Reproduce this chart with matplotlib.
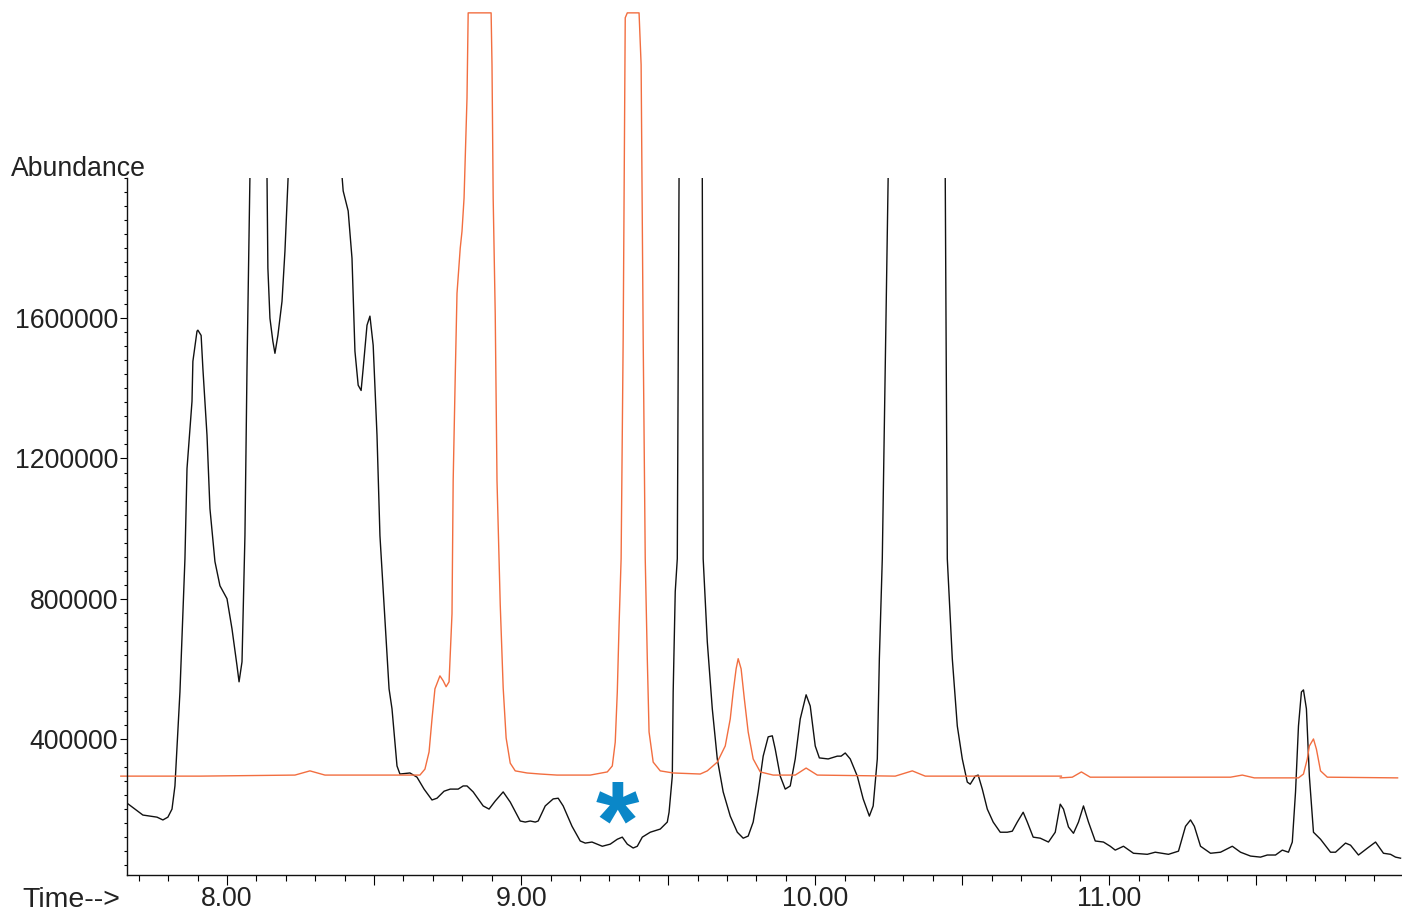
import matplotlib
matplotlib.use("Agg")
import matplotlib.pyplot as plt
from matplotlib.ticker import FixedLocator, MultipleLocator, FuncFormatter

# total ion chromatogram (black), clipped peaks carry estimated apex values
tic_time = [7.660, 7.714, 7.762, 7.782, 7.799, 7.813, 7.823, 7.840, 7.857, 7.864,
            7.881, 7.884, 7.898, 7.901, 7.912, 7.918, 7.932, 7.942, 7.959, 7.976,
            8.000, 8.017, 8.034, 8.041, 8.051, 8.061, 8.068, 8.078, 8.105, 8.136,
            8.139, 8.146, 8.156, 8.163, 8.173, 8.187, 8.197, 8.208, 8.310, 8.391,
            8.395, 8.412, 8.425, 8.435, 8.446, 8.456, 8.463, 8.476, 8.486, 8.497,
            8.510, 8.520, 8.537, 8.551, 8.561, 8.578, 8.588, 8.622, 8.646, 8.670,
            8.697, 8.714, 8.738, 8.759, 8.786, 8.803, 8.816, 8.837, 8.871, 8.891,
            8.912, 8.939, 8.963, 8.997, 9.014, 9.031, 9.048, 9.058, 9.082, 9.109,
            9.126, 9.143, 9.173, 9.201, 9.218, 9.241, 9.276, 9.303, 9.327, 9.344,
            9.361, 9.381, 9.395, 9.412, 9.439, 9.473, 9.497, 9.503, 9.514, 9.517,
            9.524, 9.531, 9.537, 9.575, 9.616, 9.619, 9.633, 9.650, 9.667, 9.687,
            9.711, 9.735, 9.755, 9.772, 9.789, 9.806, 9.823, 9.840, 9.854, 9.864,
            9.881, 9.898, 9.915, 9.932, 9.949, 9.969, 9.983, 10.000, 10.014, 10.044,
            10.075, 10.088, 10.102, 10.119, 10.143, 10.163, 10.184, 10.197, 10.211, 10.218,
            10.228, 10.248, 10.350, 10.442, 10.449, 10.466, 10.483, 10.500, 10.517, 10.527,
            10.544, 10.554, 10.568, 10.585, 10.605, 10.629, 10.653, 10.670, 10.687, 10.707,
            10.721, 10.741, 10.765, 10.793, 10.816, 10.833, 10.844, 10.861, 10.878, 10.895,
            10.912, 10.929, 10.952, 10.980, 11.003, 11.020, 11.048, 11.082, 11.129, 11.156,
            11.201, 11.235, 11.259, 11.276, 11.289, 11.310, 11.344, 11.378, 11.418, 11.446,
            11.480, 11.514, 11.537, 11.565, 11.588, 11.609, 11.622, 11.633, 11.643, 11.653,
            11.660, 11.670, 11.680, 11.694, 11.718, 11.752, 11.769, 11.803, 11.820, 11.847,
            11.878, 11.905, 11.932, 11.956, 11.973, 11.990]
tic_abund = [217000, 183000, 177000, 169000, 177000, 200000, 266000, 534000, 914000, 1171000,
             1363000, 1477000, 1563000, 1566000, 1551000, 1457000, 1266000, 1057000, 906000, 837000,
             800000, 714000, 609000, 563000, 620000, 980000, 1457000, 2006000, 2600000, 2006000,
             1743000, 1600000, 1534000, 1500000, 1551000, 1648000, 1791000, 2006000, 3200000, 2006000,
             1963000, 1906000, 1771000, 1506000, 1409000, 1394000, 1457000, 1580000, 1606000, 1523000,
             1266000, 980000, 743000, 543000, 486000, 323000, 300000, 303000, 291000, 257000,
             226000, 231000, 251000, 257000, 257000, 266000, 266000, 249000, 209000, 200000,
             223000, 249000, 220000, 166000, 163000, 166000, 163000, 166000, 209000, 229000,
             231000, 209000, 151000, 109000, 103000, 106000, 94000, 100000, 114000, 120000,
             100000, 89000, 94000, 120000, 134000, 143000, 163000, 191000, 294000, 534000,
             820000, 914000, 2006000, 4000000, 2006000, 914000, 677000, 486000, 343000, 249000,
             180000, 134000, 117000, 123000, 163000, 249000, 351000, 406000, 409000, 371000,
             294000, 257000, 266000, 343000, 457000, 526000, 494000, 380000, 346000, 343000,
             351000, 351000, 360000, 343000, 294000, 229000, 180000, 209000, 343000, 629000,
             914000, 2006000, 5000000, 2006000, 914000, 629000, 437000, 343000, 277000, 271000,
             294000, 297000, 257000, 200000, 163000, 134000, 134000, 137000, 163000, 191000,
             163000, 120000, 117000, 106000, 134000, 214000, 200000, 149000, 131000, 163000,
             209000, 163000, 109000, 106000, 94000, 83000, 94000, 74000, 71000, 77000,
             71000, 80000, 151000, 169000, 151000, 94000, 74000, 77000, 94000, 77000,
             66000, 63000, 69000, 69000, 83000, 77000, 106000, 249000, 437000, 534000,
             540000, 486000, 294000, 134000, 114000, 77000, 77000, 103000, 97000, 69000,
             89000, 106000, 74000, 71000, 63000, 60000]

# extracted ion trace (orange), drawn as two scan segments
ion_time_a = [7.639, 7.908, 8.231, 8.282, 8.333, 8.656, 8.673, 8.687, 8.697, 8.707,
              8.724, 8.735, 8.745, 8.755, 8.765, 8.769, 8.776, 8.782, 8.793, 8.799,
              8.806, 8.816, 8.820, 8.898, 8.901, 8.905, 8.912, 8.918, 8.929, 8.939,
              8.949, 8.963, 8.980, 9.020, 9.065, 9.122, 9.235, 9.293, 9.310, 9.320,
              9.327, 9.333, 9.340, 9.347, 9.354, 9.361, 9.401, 9.408, 9.415, 9.422,
              9.429, 9.435, 9.449, 9.473, 9.517, 9.609, 9.633, 9.667, 9.694, 9.711,
              9.721, 9.731, 9.738, 9.748, 9.759, 9.772, 9.789, 9.813, 9.857, 9.932,
              9.969, 10.007, 10.272, 10.330, 10.374, 10.837]
ion_abund_a = [294000, 294000, 297000, 309000, 297000, 297000, 314000, 363000, 457000, 543000,
               580000, 566000, 549000, 563000, 757000, 1137000, 1434000, 1671000, 1800000, 1848000,
               1943000, 2228000, 2471000, 2471000, 2323000, 1943000, 1611000, 1137000, 783000, 546000,
               403000, 331000, 309000, 303000, 300000, 297000, 297000, 306000, 323000, 391000,
               534000, 723000, 914000, 1543000, 2457000, 2471000, 2471000, 2323000, 1543000, 914000,
               629000, 420000, 334000, 309000, 303000, 300000, 309000, 334000, 380000, 457000,
               534000, 600000, 629000, 600000, 514000, 420000, 343000, 306000, 297000, 297000,
               317000, 297000, 294000, 309000, 294000, 294000]
ion_time_b = [10.833, 10.874, 10.905, 10.935, 11.412, 11.452, 11.493, 11.643, 11.660, 11.673,
              11.680, 11.694, 11.704, 11.718, 11.741, 11.980]
ion_abund_b = [289000, 291000, 306000, 291000, 291000, 297000, 289000, 289000, 300000, 343000,
               380000, 400000, 371000, 309000, 291000, 289000]

y_labels = [400000, 800000, 1200000, 1600000]

plt.rcParams['font.family'] = ['Liberation Sans', 'DejaVu Sans']
txt = '#222222'

fig = plt.figure(figsize=(14.02, 9.13), dpi=100)
ax = fig.add_axes([127 / 1402, 38 / 913, 1275 / 1402, 697 / 913])

ax.plot(tic_time, tic_abund, color='#111111', lw=1.0, solid_joinstyle='round')
ax.plot(ion_time_a, ion_abund_a, color='#f26e40', lw=1.0, clip_on=False, solid_joinstyle='round')
ax.plot(ion_time_b, ion_abund_b, color='#f26e40', lw=1.0, clip_on=False, solid_joinstyle='round')

ax.set_xlim(7.66, 11.995)
ax.set_ylim(12000, 2000000)

for s in ['top', 'right']:
    ax.spines[s].set_visible(False)
for s in ['left', 'bottom']:
    ax.spines[s].set_linewidth(1.0)
    ax.spines[s].set_color('#111111')

ax.yaxis.set_major_locator(FixedLocator(y_labels))
ax.yaxis.set_minor_locator(MultipleLocator(40000))
ax.yaxis.set_major_formatter(FuncFormatter(lambda v, p: '%d' % v))
ax.xaxis.set_major_locator(MultipleLocator(0.5))
ax.xaxis.set_minor_locator(MultipleLocator(0.1))
ax.xaxis.set_major_formatter(FuncFormatter(lambda v, p: '%.2f' % v if abs(v - round(v)) < 1e-6 else ''))

ax.tick_params(axis='y', which='major', length=5, width=0.8, pad=1.5, labelsize=19.2, labelcolor=txt)
ax.tick_params(axis='y', which='minor', length=2.5, width=0.8)
ax.tick_params(axis='x', which='major', length=7, width=0.8, pad=1, labelsize=19.2, labelcolor=txt)
ax.tick_params(axis='x', which='minor', length=4.3, width=0.8)

fig.text(11 / 1402, 1 - 175.5 / 913, 'Abundance', fontsize=19.2, color=txt, ha='left', va='baseline')
fig.text(22 / 1402, 1 - 907 / 913, 'Time-->', fontsize=20.5, color=txt, ha='left', va='baseline')

# marker for the compound of interest
ax.text(9.327, 143000, '*', fontsize=80, fontweight='bold', color='#0a87c8',
        ha='center', va='center')

fig.savefig('out.png', dpi=100)
